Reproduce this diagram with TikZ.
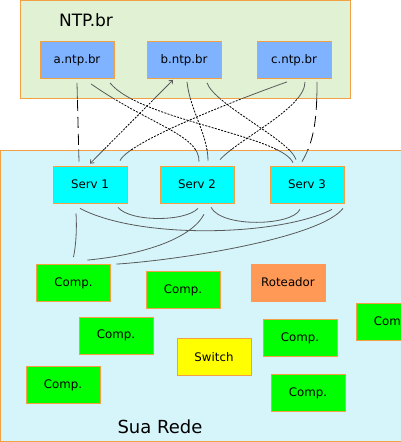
\documentclass[tikz,border=0pt]{standalone}
\usepackage{fontspec}
\setmainfont{DejaVu Sans}
\usetikzlibrary{arrows.meta,calc}
\definecolor{ntpbg}{HTML}{E1F1D4}
\definecolor{redebg}{HTML}{D6F5FA}
\definecolor{edge}{HTML}{F2A043}
\definecolor{ntpblue}{HTML}{80B3FF}
\definecolor{servcyan}{HTML}{00FFFF}
\definecolor{compgreen}{HTML}{00FF00}
\definecolor{swyellow}{HTML}{FFFF00}
\definecolor{rotor}{HTML}{FF9955}

\tikzset{
  box/.style={draw=edge,line width=0.8pt,minimum width=74pt,minimum height=37pt,
    inner sep=0pt,font=\fontsize{11.8}{14}\selectfont},
  ntp/.style={box,fill=ntpblue},
  serv/.style={box,fill=servcyan},
  comp/.style={box,fill=compgreen},
  link/.style={gray!70!black,line width=0.8pt},
  gaplink/.style={black,line width=0.8pt,dash pattern=on 2pt off 1.3pt},
  gaplong/.style={black,line width=0.8pt,dash pattern=on 11pt off 6pt},
}

% links between NTP.br and the servers, #1 = normal, #2 = long dashes
\newcommand\ntplinks[2]{%
  \draw[#2] ($(a.south)+(0,4)$) -- ($(serv1.north)+(-11,-4)$);
  \draw[#1] ($(a.south)+(14,5)$) .. controls (150,125) and (200,135) .. ($(serv2.north)+(2,-4)$);
  \draw[#1] ($(a.south)+(33,4)$) .. controls (140,120) and (280,135) .. ($(serv3.north)+(-14,-3)$);
  \draw[#1,{Straight Barb[length=3pt,width=5pt]}-{Straight Barb[length=3pt,width=5pt]}]
    ($(serv1.north)+(0,-2)$) -- ($(b.south)+(-11,1)$);
  \draw[#1] ($(c.south)+(-7,3)$) .. controls (250,95) and (130,140) .. ($(serv1.north)+(30,-5)$);
  \draw[#1] ($(b.south)+(3,3)$) .. controls (190,110) and (208,135) .. ($(serv2.north)+(11,-5)$);
  \draw[#1] ($(b.south)+(23,4)$) .. controls (215,105) and (290,140) .. ($(serv3.north)+(-11,-6)$);
  \draw[#1] ($(c.south)+(11,3)$) .. controls (305,108) and (240,138) .. ($(serv2.north)+(23,-6)$);
  \draw[#2] ($(c.south)+(23,3)$) .. controls (317,115) and (315,140) .. ($(serv3.north)+(-5,-4)$);
}

\begin{document}
\begin{tikzpicture}[x=1pt,y=-1pt]
\useasboundingbox (0,0) rectangle (400,442);
% background areas
\draw[edge,fill=ntpbg,line width=0.8pt] (20,0.5) rectangle (350,98);
\draw[edge,fill=redebg,line width=0.8pt] (0.5,150) rectangle (420,441.5);
\node[anchor=base,font=\fontsize{17}{20}\selectfont] (ntptitle) at (86,26) {NTP.br};
\node[anchor=base west,font=\fontsize{18}{21}\selectfont] (rede) at (114,433) {Sua Rede};

\node[ntp] (a) at (77,60) {a.ntp.br};
\node[ntp] (b) at (184,60) {b.ntp.br};
\node[ntp] (c) at (294,60) {c.ntp.br};

\node[serv] (serv1) at (90,184.5) {Serv 1};
\node[serv] (serv2) at (197,184.5) {Serv 2};
\node[serv] (serv3) at (307,184.5) {Serv 3};

\node[comp] (comp1) at (73.5,283) {Comp.};
\node[comp] (comp2) at (183,290) {Comp.};
\node[box,fill=rotor,draw=rotor] (rot) at (288,282.5) {Roteador};
\node[comp] (comp3) at (393,322) {Comp.};
\node[comp] (comp4) at (116,335.5) {Comp.};
\node[box,fill=swyellow] (switch) at (214,357) {Switch};
\node[comp] (comp5) at (300,338) {Comp.};
\node[comp] (comp6) at (63,385) {Comp.};
\node[comp] (comp7) at (308,393) {Comp.};

\ntplinks{link}{link}
\begin{scope}
\clip (0,99) rectangle (400,149.4);
\fill[white] (0,99) rectangle (400,149.4);
\ntplinks{gaplink}{gaplong}
\end{scope}

% links inside Sua Rede
\draw[link] ($(serv1.south)+(-14,10)$) .. controls (77,228) and (76,245) .. ($(comp1.north)+(0,-7)$);
\draw[link] ($(serv1.south)+(-10,5)$) .. controls (140,240) and (280,236) .. ($(serv3.south)+(25,6)$);
\draw[link] ($(serv1.south)+(28,4)$) .. controls (130,222) and (185,222) .. ($(serv2.south)+(1,5)$);
\draw[link] ($(serv2.south)+(14,4)$) .. controls (222,228) and (292,226) .. ($(serv3.south)+(-7,6)$);
\draw[link] ($(serv2.south)+(7,11)$) .. controls (190,240) and (140,255) .. ($(comp1.north)+(14,-4)$);
\draw[link] ($(serv3.south)+(36,5)$) .. controls (320,238) and (180,260) .. ($(comp1.north)+(43,0)$);
\end{tikzpicture}
\end{document}
